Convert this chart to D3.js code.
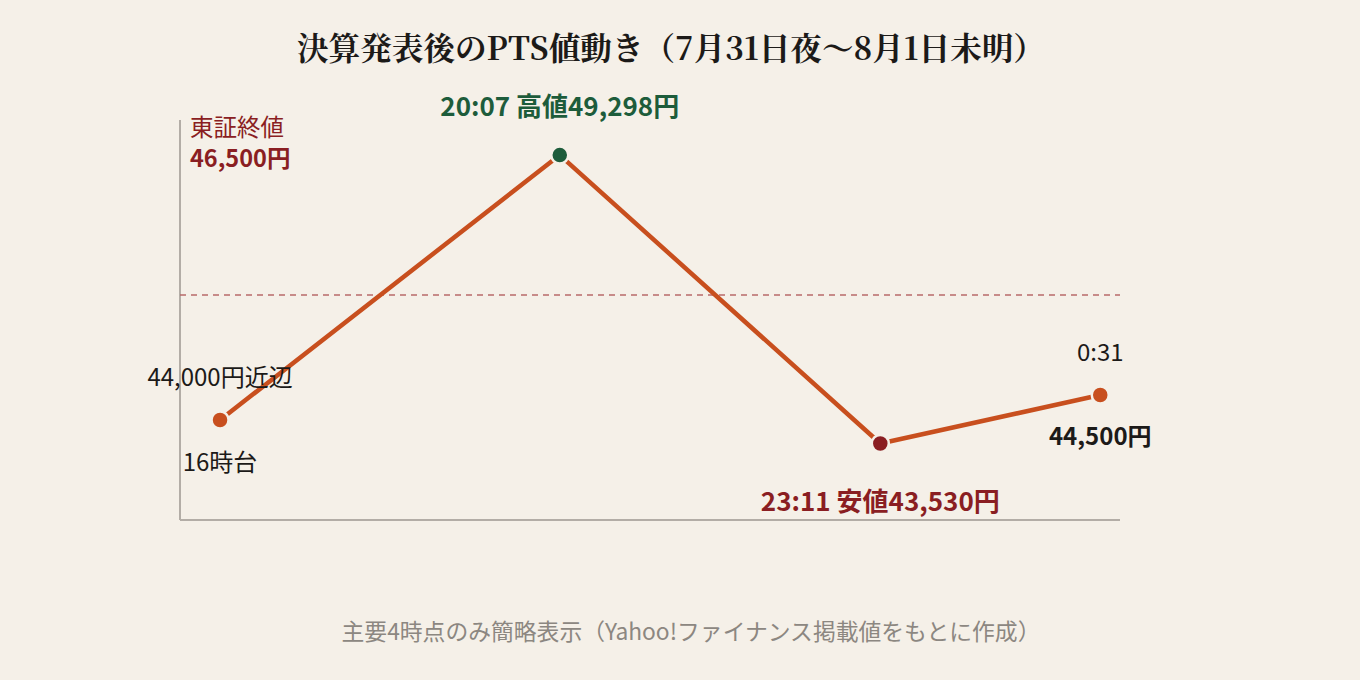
<html>
<head>
  <meta charset="utf-8">
  <script src="https://cdn.jsdelivr.net/npm/d3@7/dist/d3.min.js"></script>
  <style>
    body { margin:0; background:#f5f0e8; }
    svg text { font-family:"Noto Sans CJK JP","Noto Sans",sans-serif; }
  </style>
</head>
<body>
  <svg width="1360" height="680"></svg>

  <script type="text/javascript">

  // data
  const times = ["16時台", "20:07", "23:11", "0:31"]
  const prices = [44000, 49298, 43530, 44500]
  const closePrice = 46500
  const yDomain = [42000, 50000]

  const bg = "#f5f0e8"
  const lineColor = "#c84f1e"
  const green = "#1d5c3b"
  const darkRed = "#8a1e22"
  const ink = "#1c1a18"

  let svg = d3.select("svg")

  svg.append("rect").attr("width",1360).attr("height",680).attr("fill",bg)

  // plot area
  let pLeft = 180, pRight = 1120, pTop = 120, pBottom = 520
  let w = pRight - pLeft
  // schematic spacing of the four time points (fractions of plot width)
  let stops = [0.0426, 0.404, 0.745, 0.979]

  let x = d3.scaleLinear()
    .domain(d3.range(times.length))
    .range(stops.map(function(s){ return pLeft + s*w }))
  let y = d3.scaleLinear().domain(yDomain).range([pBottom, pTop])

  let data = times.map(function(t,i){ return {t:t, v:prices[i], i:i} })

  // title
  svg.append("text")
    .attr("x",671).attr("y",60)
    .attr("text-anchor","middle")
    .attr("font-size",31.6).attr("font-weight","bold")
    .attr("fill",ink)
    .style("font-family",'"Noto Serif CJK JP","Liberation Serif","Noto Sans CJK JP",serif')
    .text("決算発表後のPTS値動き（7月31日夜～8月1日未明）")

  // axes
  svg.append("line")
    .attr("x1",pLeft).attr("x2",pLeft).attr("y1",pTop).attr("y2",pBottom)
    .attr("stroke","#b3ada6").attr("stroke-width",2)
  svg.append("line")
    .attr("x1",pLeft).attr("x2",pRight).attr("y1",pBottom).attr("y2",pBottom)
    .attr("stroke","#b3ada6").attr("stroke-width",2)

  // close price reference
  svg.append("line")
    .attr("x1",pLeft).attr("x2",pRight)
    .attr("y1",y(closePrice)).attr("y2",y(closePrice))
    .attr("stroke","#b86a6a").attr("stroke-width",1.3)
    .attr("stroke-dasharray","6,5")

  svg.append("text")
    .attr("x",pLeft+10).attr("y",136)
    .attr("font-size",23.5).attr("fill",darkRed)
    .text("東証終値")
  svg.append("text")
    .attr("x",pLeft+10).attr("y",167)
    .attr("font-size",23.5).attr("font-weight","bold").attr("fill",darkRed)
    .text(d3.format(",")(closePrice)+"円")

  // line
  let line = d3.line()
    .x(function(d){ return x(d.i) })
    .y(function(d){ return y(d.v) })

  svg.append("path")
    .datum(data)
    .attr("d",line)
    .attr("fill","none")
    .attr("stroke",lineColor)
    .attr("stroke-width",4.5)
    .attr("stroke-linejoin","round")

  let dotColor = [lineColor, green, darkRed, lineColor]

  svg.selectAll(".dot")
    .data(data)
    .enter()
    .append("circle")
    .attr("class","dot")
    .attr("cx",function(d){ return x(d.i) })
    .attr("cy",function(d){ return y(d.v) })
    .attr("r",8.5)
    .attr("fill",function(d){ return dotColor[d.i] })
    .attr("stroke",bg)
    .attr("stroke-width",2.5)

  let fmt = d3.format(",")

  function label(i, dy, txt, size, bold, color){
    svg.append("text")
      .attr("x",x(i))
      .attr("y",y(prices[i])+dy)
      .attr("text-anchor","middle")
      .attr("font-size",size)
      .attr("font-weight",bold?"bold":"normal")
      .attr("fill",color)
      .text(txt)
  }

  // 16時台
  label(0, -34, fmt(prices[0])+"円近辺", 24, false, ink)
  label(0, 51, times[0], 24, false, ink)
  // high
  label(1, -39, times[1]+" 高値"+fmt(prices[1])+"円", 26, true, green)
  // low
  label(2, 67, times[2]+" 安値"+fmt(prices[2])+"円", 26, true, darkRed)
  // last
  label(3, -34, times[3], 24, false, ink)
  label(3, 50, fmt(prices[3])+"円", 24, true, ink)

  // footer
  svg.append("text")
    .attr("x",691).attr("y",640)
    .attr("text-anchor","middle")
    .attr("font-size",22.8).attr("fill","#8c8781")
    .text("主要4時点のみ簡略表示（Yahoo!ファイナンス掲載値をもとに作成）")

  </script>
</body>
</html>
